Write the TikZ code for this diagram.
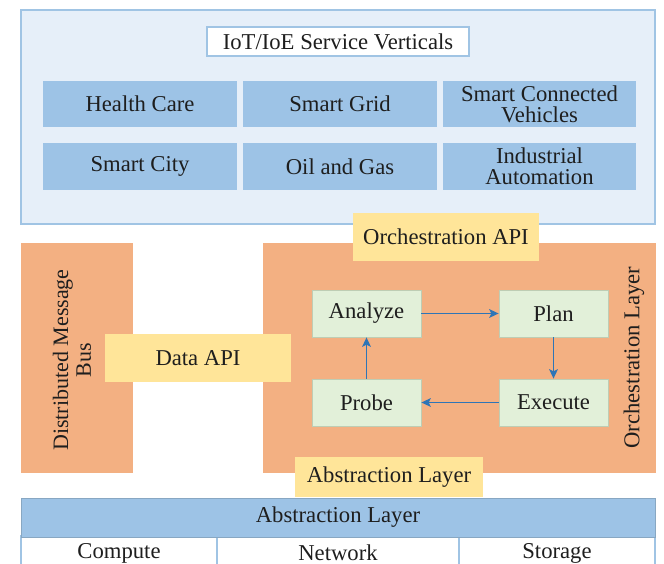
\documentclass[tikz,border=0pt]{standalone}
\usepackage{fontspec}
\setmainfont{Liberation Serif}
\usetikzlibrary{arrows.meta}

\definecolor{panelfill}{RGB}{230,239,249}
\definecolor{panelline}{RGB}{160,196,228}
\definecolor{bluebox}{RGB}{157,195,230}
\definecolor{orangebox}{RGB}{243,176,130}
\definecolor{yellowbox}{RGB}{255,229,153}
\definecolor{greenbox}{RGB}{226,240,217}
\definecolor{greenline}{RGB}{190,205,180}
\definecolor{arrowblue}{RGB}{46,117,182}
\definecolor{inktext}{RGB}{30,30,30}

\tikzset{
  txt/.style={font=\fontsize{17}{15.5}\selectfont, text=inktext, align=center, inner sep=0pt},
  panel/.style={draw=panelline, line width=0.9pt, fill=panelfill, inner sep=0pt},
  titlebox/.style={txt, draw=panelline, line width=1.1pt, fill=white},
  vertical/.style={txt, fill=bluebox},
  orangebox/.style={fill=orangebox, draw=orangebox, line width=0.6pt, inner sep=0pt},
  apibox/.style={txt, fill=yellowbox},
  loopbox/.style={txt, fill=greenbox, draw=greenline, line width=0.6pt},
  flow/.style={draw=arrowblue, line width=1.2pt, -{Stealth[length=7pt,width=6.5pt,inset=1.5pt]}},
  barbox/.style={txt, fill=bluebox, draw=panelline!85!black, line width=0.6pt},
  cell/.style={draw=panelline, line width=0.9pt, fill=white, inner sep=0pt}
}

\begin{document}
\begin{tikzpicture}[x=0.75pt, y=-0.75pt]
  \useasboundingbox (0,0) rectangle (664,564);

  % service verticals panel
  \node[panel, minimum width=475.5pt, minimum height=160.5pt] (services) at (338,117) {};
  \node[titlebox, minimum width=196.5pt, minimum height=21.75pt] (svctitle) at (338,41.5) {IoT/IoE Service Verticals};

  \node[vertical, minimum width=145.5pt, minimum height=34.5pt] (health) at (140,104) {Health Care};
  \node[vertical, minimum width=145.5pt, minimum height=34.5pt] (grid) at (340,104) {Smart Grid};
  \node[vertical, minimum width=145pt, minimum height=34.5pt] (vehicles) at (539.5,104) {Smart Connected\\Vehicles};
  \node[vertical, minimum width=145.5pt, minimum height=35.25pt] (city) at (140,166.5) {Smart City};
  \node[vertical, minimum width=145.5pt, minimum height=35.25pt] (oilgas) at (340,166.5) {Oil and Gas};
  \node[vertical, minimum width=145pt, minimum height=35.25pt] (industrial) at (539.5,166.5) {Industrial\\Automation};

  % message bus and orchestration layer
  \node[orangebox, minimum width=83.25pt, minimum height=171.75pt] (bus) at (76.5,357.5) {};
  \node[txt, rotate=90, font=\fontsize{16.5}{17}\selectfont] (buslabel) at (72,360) {Distributed Message\\Bus};

  \node[orangebox, minimum width=294pt, minimum height=171.75pt] (orch) at (459,357.5) {};
  \node[txt, rotate=90] (orchlabel) at (634,357.5) {Orchestration Layer};

  % interfaces
  \node[apibox, minimum width=139.5pt, minimum height=36pt] (orchapi) at (446,237) {Orchestration API};
  \node[apibox, minimum width=139.5pt, minimum height=36pt] (dataapi) at (198,358) {Data API};
  \node[apibox, minimum width=141pt, minimum height=30pt] (abstrapi) at (389,477) {Abstraction Layer};

  % control loop
  \node[loopbox, minimum width=81.75pt, minimum height=35.25pt] (analyze) at (366.5,313.5) {Analyze};
  \node[loopbox, minimum width=81.75pt, minimum height=35.25pt] (plan) at (553.5,313.5) {Plan};
  \node[loopbox, minimum width=81.75pt, minimum height=35.25pt] (execute) at (553.5,402.5) {Execute};
  \node[loopbox, minimum width=81.75pt, minimum height=35.25pt] (probe) at (366.5,402.5) {Probe};

  \draw[flow] (analyze) -- (plan);
  \draw[flow] (plan) -- (execute);
  \draw[flow] (execute) -- (probe);
  \draw[flow] (probe) -- (analyze);

  % resources
  \node[cell, minimum width=147pt, minimum height=24pt] (computecell) at (119,552) {};
  \node[cell, minimum width=181.5pt, minimum height=24pt] (networkcell) at (338,552) {};
  \node[cell, minimum width=147pt, minimum height=24pt] (storagecell) at (557,552) {};
  \node[txt] (compute) at (119,553) {Compute};
  \node[txt] (network) at (338,553) {Network};
  \node[txt] (storage) at (557,553) {Storage};

  \node[barbox, minimum width=475.5pt, minimum height=29.25pt] (abstraction) at (338,517.5) {Abstraction Layer};
\end{tikzpicture}
\end{document}
